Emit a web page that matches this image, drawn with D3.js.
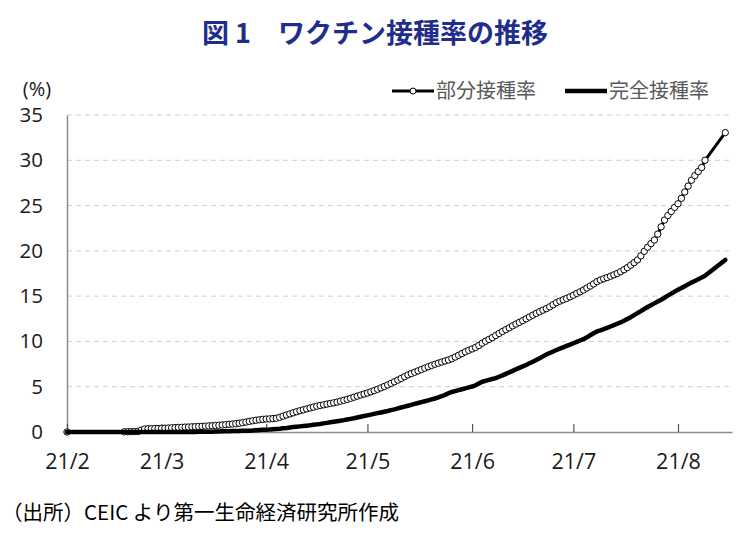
<!DOCTYPE html>
<html>
<head>
<meta charset="utf-8">
<script src="https://cdn.jsdelivr.net/npm/d3@7"></script>
<style>
  body { margin: 0; background: #fff; }
  svg { display: block; }
</style>
</head>
<body>
<svg id="chart"></svg>
<script>
// daily values from 2021-02-01, null = no observation that day
var startDate = "2021-02-01";
var endDate = "2021-08-17";

var partialRate = [
  0, null, null, null, null, null, null, null, null, null, null, null, null, null, null, null, null, 0.02, 0.03, 0.04, 0.05, 0.06, 0.20, 0.33, 0.35, 0.37, 0.38,
  0.39, 0.40, 0.42, 0.44, 0.46, 0.48, 0.50, 0.52, 0.54, 0.55, 0.57, 0.59, 0.61, 0.63, 0.65, 0.67, 0.69, 0.72, 0.75, 0.78, 0.81, 0.85, 0.88, 0.92, 0.97, 1.03, 1.10, 1.17, 1.24, 1.30, 1.35,
  1.40, 1.43, 1.45, 1.48, 1.52, 1.62, 1.75, 1.88, 2.00, 2.12, 2.24, 2.35, 2.45, 2.55, 2.65, 2.75, 2.85, 2.93, 3.00, 3.08, 3.15, 3.22, 3.30, 3.40, 3.50, 3.60, 3.72, 3.84, 3.96, 4.08,
  4.19, 4.30, 4.43, 4.57, 4.72, 4.87, 5.03, 5.20, 5.37, 5.55, 5.73, 5.92, 6.11, 6.30, 6.45, 6.60, 6.75, 6.90, 7.05, 7.20, 7.35, 7.48, 7.60, 7.72, 7.84, 7.95, 8.10, 8.28, 8.47, 8.66, 8.85,
  9.02, 9.17, 9.33, 9.55, 9.80, 10.02, 10.22, 10.42, 10.65, 10.88, 11.10, 11.30, 11.50, 11.72, 11.92, 12.10, 12.30, 12.50, 12.70, 12.90, 13.10, 13.28, 13.45, 13.62, 13.82, 14.05, 14.28, 14.45, 14.60, 14.75,
  14.92, 15.10, 15.30, 15.48, 15.68, 15.90, 16.12, 16.35, 16.60, 16.78, 16.92, 17.05, 17.20, 17.35, 17.50, 17.70, 17.92, 18.15, 18.42, 18.70, 19.00, 19.45, 19.95, 20.40, 20.80, 21.20, 21.85, 22.65, 23.40, 23.90, 24.35,
  24.80, 25.20, 25.80, 26.50, 27.15, 27.80, 28.30, 28.75, 29.20, 30.00, null, null, null, null, null, 33.05
];

var fullRate = [
  0, null, null, null, null, null, null, null, null, null, null, null, null, null, null, null, null, 0, 0, 0, 0, 0, 0, 0, 0, 0, 0,
  0.01, 0.01, 0.01, 0.01, 0.01, 0.01, 0.01, 0.01, 0.01, 0.01, 0.01, 0.01, 0.02, 0.02, 0.03, 0.03, 0.04, 0.05, 0.06, 0.07, 0.08, 0.09, 0.10, 0.11, 0.12, 0.13, 0.14, 0.15, 0.17, 0.20, 0.22,
  0.24, 0.26, 0.28, 0.31, 0.34, 0.37, 0.41, 0.45, 0.50, 0.54, 0.58, 0.62, 0.66, 0.70, 0.74, 0.79, 0.84, 0.89, 0.95, 1.01, 1.07, 1.13, 1.19, 1.25, 1.31, 1.38, 1.45, 1.52, 1.60, 1.68,
  1.76, 1.84, 1.92, 2.00, 2.08, 2.16, 2.24, 2.32, 2.41, 2.50, 2.60, 2.70, 2.80, 2.90, 3.00, 3.10, 3.20, 3.30, 3.40, 3.50, 3.60, 3.70, 3.82, 3.95, 4.10, 4.28, 4.42, 4.52, 4.62, 4.72, 4.82,
  4.92, 5.02, 5.15, 5.35, 5.55, 5.65, 5.75, 5.85, 5.95, 6.10, 6.25, 6.42, 6.58, 6.75, 6.92, 7.08, 7.24, 7.40, 7.58, 7.76, 7.95, 8.15, 8.35, 8.55, 8.72, 8.88, 9.05, 9.20, 9.35, 9.50,
  9.65, 9.80, 9.95, 10.10, 10.25, 10.45, 10.68, 10.90, 11.10, 11.22, 11.35, 11.50, 11.65, 11.80, 11.95, 12.10, 12.28, 12.48, 12.68, 12.90, 13.12, 13.35, 13.58, 13.80, 14.00, 14.20, 14.40, 14.60, 14.82, 15.05, 15.28,
  15.50, 15.70, 15.90, 16.10, 16.30, 16.50, 16.68, 16.86, 17.05, 17.25, null, null, null, null, null, 19.00
];

var monthLabels = ["21/2", "21/3", "21/4", "21/5", "21/6", "21/7", "21/8"];
var yTicks = [0, 5, 10, 15, 20, 25, 30, 35];
var seriesNames = ["部分接種率", "完全接種率"];

var width = 745, height = 538;
var margin = { top: 115, right: 13, bottom: 106, left: 67 };

var parse = d3.utcParse("%Y-%m-%d");
var t0 = parse(startDate);

var svg = d3.select("#chart")
  .attr("width", width)
  .attr("height", height);

var x = d3.scaleUtc()
  .domain([t0, parse(endDate)])
  .range([margin.left, width - margin.right]);

var y = d3.scaleLinear()
  .domain([0, 35])
  .range([height - margin.bottom, margin.top]);

function toPoints(arr) {
  return arr.map((v, i) => ({ date: d3.utcDay.offset(t0, i), value: v }))
    .filter(d => d.value !== null);
}

var partialPts = toPoints(partialRate);
var fullPts = toPoints(fullRate);

var line = d3.line()
  .x(d => x(d.date))
  .y(d => y(d.value));

// title
svg.append("text")
  .attr("x", 375)
  .attr("y", 43)
  .attr("text-anchor", "middle")
  .attr("font-family", "'Noto Sans CJK JP', sans-serif")
  .attr("font-weight", "bold")
  .attr("font-size", 27)
  .attr("fill", "#1f2d8c")
  .text("図 1　ワクチン接種率の推移");

// gridlines
svg.append("g")
  .selectAll("line")
  .data(yTicks.filter(d => d > 0))
  .enter().append("line")
  .attr("x1", margin.left)
  .attr("x2", width - margin.right)
  .attr("y1", d => y(d))
  .attr("y2", d => y(d))
  .attr("stroke", "#cfcfcf")
  .attr("stroke-width", 1)
  .attr("stroke-dasharray", "5,4");

// y axis
var yAxis = svg.append("g")
  .attr("transform", `translate(${margin.left},0)`)
  .call(d3.axisLeft(y).tickValues(yTicks).tickSize(0).tickPadding(24))
  .call(g => g.select(".domain").attr("stroke", "#8c8c8c").attr("stroke-width", 1.5));

yAxis.selectAll("text")
  .attr("font-family", "'Open Sans', sans-serif")
  .attr("font-size", 20.5)
  .attr("fill", "#1a1a1a");

svg.append("text")
  .attr("x", 37)
  .attr("y", 96)
  .attr("text-anchor", "middle")
  .attr("font-family", "'Open Sans', sans-serif")
  .attr("font-size", 20)
  .attr("fill", "#1a1a1a")
  .text("(%)");

// x axis, ticks point inward
var xAxis = svg.append("g")
  .attr("transform", `translate(0,${height - margin.bottom})`)
  .call(d3.axisBottom(x)
    .ticks(d3.utcMonth.every(1))
    .tickSize(-8)
    .tickSizeOuter(0)
    .tickPadding(22)
    .tickFormat((d, i) => monthLabels[i]));

xAxis.select(".domain").attr("stroke", "#8c8c8c").attr("stroke-width", 1.5);
xAxis.selectAll(".tick line").attr("stroke", "#555").attr("stroke-width", 1.2);
xAxis.selectAll("text")
  .attr("font-family", "'Open Sans', sans-serif")
  .attr("font-size", 21.5)
  .attr("fill", "#1a1a1a");

// partial vaccination: line + open markers
svg.append("path")
  .datum(partialPts)
  .attr("fill", "none")
  .attr("stroke", "#000")
  .attr("stroke-width", 3)
  .attr("stroke-linejoin", "round")
  .attr("d", line);

svg.append("g")
  .selectAll("circle")
  .data(partialPts)
  .enter().append("circle")
  .attr("cx", d => x(d.date))
  .attr("cy", d => y(d.value))
  .attr("r", 3.2)
  .attr("fill", "#fff")
  .attr("stroke", "#000")
  .attr("stroke-width", 1);

// full vaccination: thick line
svg.append("path")
  .datum(fullPts)
  .attr("fill", "none")
  .attr("stroke", "#000")
  .attr("stroke-width", 4.5)
  .attr("stroke-linejoin", "round")
  .attr("stroke-linecap", "round")
  .attr("d", line);

// legend
var legend = svg.append("g")
  .attr("font-family", "'Noto Sans CJK JP', sans-serif")
  .attr("font-size", 20)
  .attr("fill", "#595959");

var legendX = [392, 565];
seriesNames.forEach((name, i) => {
  var g = legend.append("g").attr("transform", `translate(${legendX[i]},91)`);
  g.append("line")
    .attr("x1", 0).attr("x2", 42)
    .attr("stroke", "#000")
    .attr("stroke-width", i === 0 ? 3 : 4.5);
  if (i === 0) {
    g.append("circle")
      .attr("cx", 21).attr("r", 3)
      .attr("fill", "#fff").attr("stroke", "#000");
  }
  g.append("text")
    .attr("x", 44)
    .attr("dy", "0.35em")
    .text(name);
});

// source note
svg.append("text")
  .attr("x", 2)
  .attr("y", 520)
  .attr("font-family", "'Noto Sans CJK JP', sans-serif")
  .attr("font-size", 20.5)
  .attr("fill", "#000")
  .text("（出所）CEIC より第一生命経済研究所作成");
</script>
</body>
</html>
